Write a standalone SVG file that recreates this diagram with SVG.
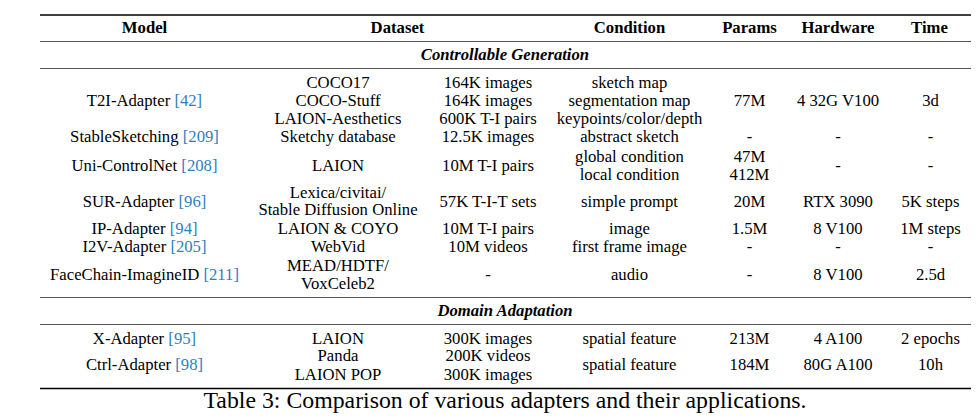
<svg xmlns="http://www.w3.org/2000/svg" width="980" height="418" viewBox="0 0 980 418">
<style>
text{font-family:"Liberation Serif","Times New Roman",serif;font-size:16.7px;fill:#000;text-anchor:middle}
.h{font-weight:bold}
.s{font-weight:bold;font-style:italic}
.c{fill:#2e7fc0}
.cap{font-size:23.8px}
.thick{stroke:#000;stroke-width:1.4}
.thin{stroke:#555;stroke-width:1}
</style>
<rect width="980" height="418" fill="#fff"/>
<g id="rules">
<line class="thick" x1="40" y1="15" x2="971" y2="15"/>
<line class="thin" x1="40" y1="41.5" x2="971" y2="41.5"/>
<line class="thin" x1="40" y1="68.5" x2="971" y2="68.5"/>
<line class="thin" x1="40" y1="297.5" x2="971" y2="297.5"/>
<line class="thin" x1="40" y1="324.5" x2="971" y2="324.5"/>
<line class="thick" x1="40" y1="388.5" x2="971" y2="388.5"/>
</g>
<g id="header" class="h">
<text class="h" x="144.5" y="33">Model</text>
<text class="h" x="397.5" y="33">Dataset</text>
<text class="h" x="629.5" y="33">Condition</text>
<text class="h" x="749.5" y="33">Params</text>
<text class="h" x="838" y="33">Hardware</text>
<text class="h" x="929.5" y="33">Time</text>
</g>
<g id="sec1"><text class="s" x="505" y="60">Controllable Generation</text></g>
<g id="t2i">
<text x="144.5" y="106">T2I-Adapter <tspan class="c">[42]</tspan></text>
<text x="338" y="88">COCO17</text>
<text x="338" y="106">COCO-Stuff</text>
<text x="338" y="124">LAION-Aesthetics</text>
<text x="488" y="88">164K images</text>
<text x="488" y="106">164K images</text>
<text x="488" y="124">600K T-I pairs</text>
<text x="629.5" y="88">sketch map</text>
<text x="629.5" y="106">segmentation map</text>
<text x="629.5" y="124">keypoints/color/depth</text>
<text x="749.5" y="106">77M</text>
<text x="838" y="106">4 32G V100</text>
<text x="930.5" y="106">3d</text>
</g>
<g id="stablesketching">
<text x="144.5" y="142">StableSketching <tspan class="c">[209]</tspan></text>
<text x="338" y="142">Sketchy database</text>
<text x="488" y="142">12.5K images</text>
<text x="629.5" y="142">abstract sketch</text>
<text x="749.5" y="142">-</text>
<text x="838" y="142">-</text>
<text x="930.5" y="142">-</text>
</g>
<g id="unicontrolnet">
<text x="144.5" y="170.5">Uni-ControlNet <tspan class="c">[208]</tspan></text>
<text x="338" y="170.5">LAION</text>
<text x="488" y="170.5">10M T-I pairs</text>
<text x="629.5" y="161.5">global condition</text>
<text x="629.5" y="179.5">local condition</text>
<text x="749.5" y="161.5">47M</text>
<text x="749.5" y="179.5">412M</text>
<text x="838" y="170.5">-</text>
<text x="930.5" y="170.5">-</text>
</g>
<g id="suradapter">
<text x="144.5" y="206.5">SUR-Adapter <tspan class="c">[96]</tspan></text>
<text x="338" y="197.5">Lexica/civitai/</text>
<text x="338" y="215">Stable Diffusion Online</text>
<text x="488" y="206.5">57K T-I-T sets</text>
<text x="629.5" y="206.5">simple prompt</text>
<text x="749.5" y="206.5">20M</text>
<text x="838" y="206.5">RTX 3090</text>
<text x="930.5" y="206.5">5K steps</text>
</g>
<g id="ipadapter">
<text x="144.5" y="234">IP-Adapter <tspan class="c">[94]</tspan></text>
<text x="338" y="234">LAION &amp; COYO</text>
<text x="488" y="234">10M T-I pairs</text>
<text x="629.5" y="234">image</text>
<text x="749.5" y="234">1.5M</text>
<text x="838" y="234">8 V100</text>
<text x="930.5" y="234">1M steps</text>
</g>
<g id="i2vadapter">
<text x="144.5" y="251.7">I2V-Adapter <tspan class="c">[205]</tspan></text>
<text x="338" y="251.7">WebVid</text>
<text x="488" y="251.7">10M videos</text>
<text x="629.5" y="251.7">first frame image</text>
<text x="749.5" y="251.7">-</text>
<text x="838" y="251.7">-</text>
<text x="930.5" y="251.7">-</text>
</g>
<g id="facechain">
<text x="144.5" y="280">FaceChain-ImagineID <tspan class="c">[211]</tspan></text>
<text x="338" y="270.5">MEAD/HDTF/</text>
<text x="338" y="288.5">VoxCeleb2</text>
<text x="488" y="280">-</text>
<text x="629.5" y="280">audio</text>
<text x="749.5" y="280">-</text>
<text x="838" y="280">8 V100</text>
<text x="930.5" y="280">2.5d</text>
</g>
<g id="sec2"><text class="s" x="505" y="316">Domain Adaptation</text></g>
<g id="xadapter">
<text x="144.5" y="343.5">X-Adapter <tspan class="c">[95]</tspan></text>
<text x="338" y="343.5">LAION</text>
<text x="488" y="343.5">300K images</text>
<text x="629.5" y="343.5">spatial feature</text>
<text x="749.5" y="343.5">213M</text>
<text x="838" y="343.5">4 A100</text>
<text x="930.5" y="343.5">2 epochs</text>
</g>
<g id="ctrladapter">
<text x="144.5" y="370">Ctrl-Adapter <tspan class="c">[98]</tspan></text>
<text x="338" y="361">Panda</text>
<text x="338" y="380">LAION POP</text>
<text x="488" y="361">200K videos</text>
<text x="488" y="380">300K images</text>
<text x="629.5" y="370">spatial feature</text>
<text x="749.5" y="370">184M</text>
<text x="838" y="370">80G A100</text>
<text x="930.5" y="370">10h</text>
</g>
<g id="caption"><text class="cap" x="505" y="408">Table 3: Comparison of various adapters and their applications.</text></g>
</svg>
